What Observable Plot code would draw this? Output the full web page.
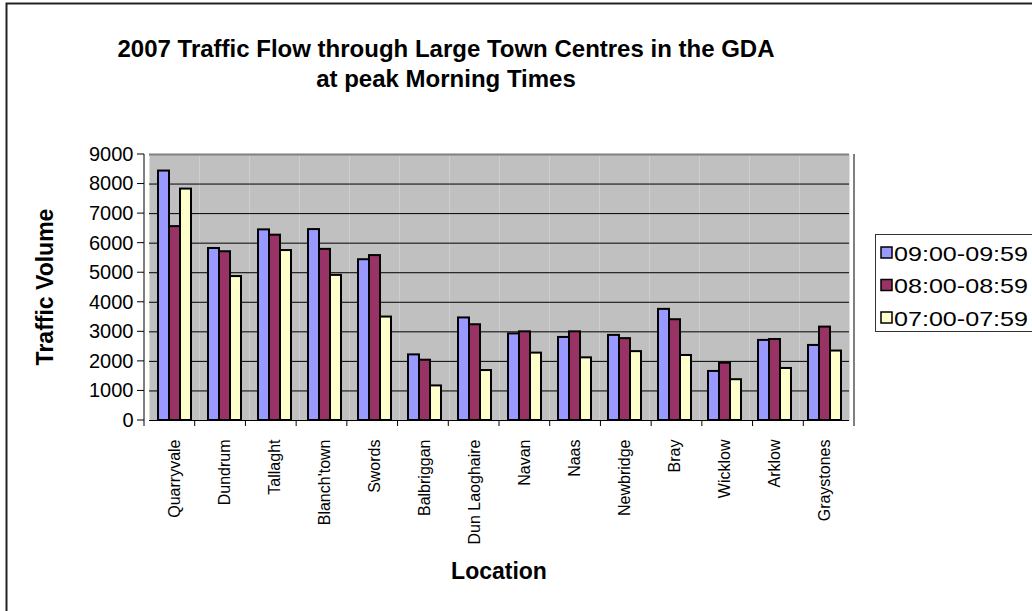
<!DOCTYPE html>
<html>
<head>
<meta charset="utf-8">
<script src="https://cdn.jsdelivr.net/npm/d3@7"></script>
<script src="https://cdn.jsdelivr.net/npm/@observablehq/plot@0.6"></script>
<style>
  html, body { margin: 0; padding: 0; background: #fff; }
  #chart svg { display: block; }
</style>
</head>
<body>
<div id="chart"></div>
<script>
const locations = ["Quarryvale", "Dundrum", "Tallaght", "Blanch'town", "Swords", "Balbriggan",
  "Dun Laoghaire", "Navan", "Naas", "Newbridge", "Bray", "Wicklow", "Arklow", "Graystones"];
const series = ["09:00-09:59", "08:00-08:59", "07:00-07:59"];
const v0900 = [8440, 5820, 6450, 6460, 5440, 2220, 3470, 2930, 2810, 2880, 3760, 1660, 2710, 2540];
const v0800 = [6560, 5710, 6270, 5790, 5580, 2040, 3240, 3000, 3000, 2770, 3410, 1940, 2740, 3160];
const v0700 = [7830, 4870, 5750, 4910, 3500, 1170, 1690, 2280, 2120, 2330, 2200, 1380, 1760, 2350];
const colors = ["#9999FF", "#993366", "#FFFFCC"];
const yTicks = [0, 1000, 2000, 3000, 4000, 5000, 6000, 7000, 8000, 9000];
const gridTicks = [1000, 2000, 3000, 4000, 5000, 6000, 7000, 8000];
const titleLines = ["2007 Traffic Flow through Large Town Centres in the GDA", "at peak Morning Times"];
const yLabel = "Traffic Volume";
const xLabel = "Location";

const valuesBySeries = [v0900, v0800, v0700];
const data = locations.flatMap((loc, i) =>
  series.map((s, j) => ({location: loc, series: s, value: valuesBySeries[j][i]})));

const font = "'Liberation Sans', Arial, sans-serif";

const plot = Plot.plot({
  width: 1032,
  height: 611,
  marginLeft: 144,
  marginRight: 178,
  marginTop: 154,
  marginBottom: 191,
  style: {fontFamily: font, background: "#fff", color: "#000"},
  fx: {domain: locations, padding: 0, label: null},
  x: {domain: series, paddingInner: 0, paddingOuter: 0.74, axis: null},
  y: {domain: [0, 9000], axis: null},
  color: {domain: series, range: colors},
  marks: [
    Plot.frame({fill: "#C0C0C0", stroke: null}),
    Plot.ruleY(gridTicks, {stroke: "#000", strokeWidth: 1}),
    Plot.ruleY([9000], {stroke: "#808080", strokeWidth: 2}),
    Plot.barY(data, {fx: "location", x: "series", y: "value", fill: "series",
      stroke: "#000", strokeWidth: 2}),
    Plot.ruleY([0], {stroke: "#000", strokeWidth: 1}),
    Plot.axisFx({anchor: "bottom", tickRotate: -90, tickSize: 0, tickPadding: 19,
      fontSize: 16, label: null}),
    Plot.axisY({ticks: yTicks, tickSize: 0, tickPadding: 16, fontSize: 20, label: null,
      tickFormat: d => String(d)})
  ]
});

const svg = d3.select(plot);
const fx = plot.scale("fx");
const y = plot.scale("y");
const x0 = fx.range[0], x1 = fx.range[1];
const yTop = y.apply(9000), yBot = y.apply(0);
const step = (x1 - x0) / locations.length;

const g = svg.append("g").attr("font-family", font).attr("fill", "#000");

// right border of plot area
g.append("line").attr("x1", x1).attr("x2", x1).attr("y1", yTop).attr("y2", yBot)
  .attr("stroke", "#808080").attr("stroke-width", 2);
// y axis line
g.append("line").attr("x1", x0).attr("x2", x0).attr("y1", yTop).attr("y2", yBot + 6)
  .attr("stroke", "#000");
// y ticks
yTicks.forEach(t => {
  g.append("line").attr("x1", x0 - 7).attr("x2", x0).attr("y1", y.apply(t)).attr("y2", y.apply(t))
    .attr("stroke", "#000");
});
// x ticks at category boundaries
for (let i = 1; i <= locations.length; i++) {
  g.append("line").attr("x1", x0 + i * step).attr("x2", x0 + i * step)
    .attr("y1", yBot).attr("y2", yBot + 6).attr("stroke", "#000");
}
// outer chart border
g.append("rect").attr("x", 6.5).attr("y", 3.5).attr("width", 1040).attr("height", 640)
  .attr("fill", "none").attr("stroke", "#222").attr("stroke-width", 2);

// title
titleLines.forEach((t, i) => {
  g.append("text").attr("x", 446).attr("y", 57 + i * 30).attr("text-anchor", "middle")
    .attr("font-size", 24).attr("font-weight", "bold").text(t);
});
// axis titles
g.append("text").attr("transform", `translate(53,${(yTop + yBot) / 2}) rotate(-90)`)
  .attr("text-anchor", "middle").attr("font-size", 23).attr("font-weight", "bold").text(yLabel);
g.append("text").attr("x", (x0 + x1) / 2).attr("y", 579).attr("text-anchor", "middle")
  .attr("font-size", 23).attr("font-weight", "bold").text(xLabel);

// legend
const lg = g.append("g");
lg.append("rect").attr("x", 875.5).attr("y", 234.5).attr("width", 200).attr("height", 97)
  .attr("fill", "#fff").attr("stroke", "#333");
series.forEach((s, i) => {
  const cy = 253 + i * 32.5;
  lg.append("rect").attr("x", 881).attr("y", cy - 6).attr("width", 11).attr("height", 11)
    .attr("fill", colors[i]).attr("stroke", "#000").attr("stroke-width", 1.5);
  lg.append("text").attr("x", 894).attr("y", cy).attr("dy", "0.36em")
    .attr("text-anchor", "start").attr("font-size", 21)
    .attr("textLength", 134).attr("lengthAdjust", "spacingAndGlyphs").text(s);
});

document.getElementById("chart").appendChild(plot);
</script>
</body>
</html>
